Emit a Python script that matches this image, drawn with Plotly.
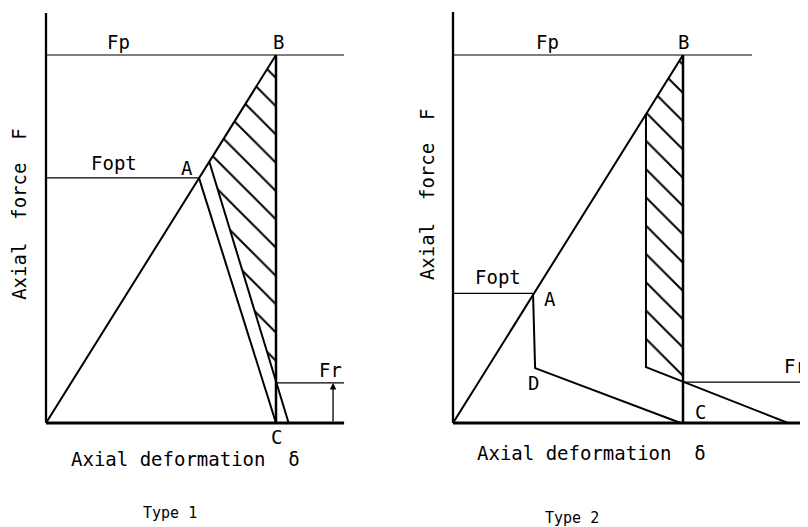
import plotly.graph_objects as go

# ---------------- data (normalised: delta_B = 1, Fp = 1) ----------------
# Type 1
t1_env_x = [0.0, 1.0]
t1_env_y = [0.0, 1.0]
t1_bc_x = [1.0, 1.0]
t1_bc_y = [1.0, 0.0]
t1_ac_x = [0.665, 1.0]
t1_ac_y = [0.666, 0.0]
t1_second_x = [0.71, 1.055]
t1_second_y = [0.71, 0.0]
t1_fopt = 0.666
t1_fp = 1.0
t1_fr = 0.109
t1_axis_x_end = 1.296
t1_axis_y_end = 1.114

# Type 2
t2_env_x = [0.0, 1.0]
t2_env_y = [0.0, 1.0]
t2_bc_x = [1.0, 1.0]
t2_bc_y = [1.0, 0.0]
t2_adc_x = [0.348, 0.357, 0.99]
t2_adc_y = [0.352, 0.149, 0.0]
t2_second_x = [0.839, 0.839, 1.457]
t2_second_y = [0.839, 0.152, 0.0]
t2_fopt = 0.352
t2_fp = 1.0
t2_fr = 0.111
t2_fp_end = 1.30
t2_axis_x_end = 1.56
t2_axis_y_end = 1.117

FONT = "DejaVu Sans Mono"
NB = "\u00a0"


def y_on_line(xs, ys, x):
    """y of the last segment of a polyline at abscissa x."""
    x0, x1 = xs[-2], xs[-1]
    y0, y1 = ys[-2], ys[-1]
    return y0 + (y1 - y0) * (x - x0) / (x1 - x0)


fig = go.Figure()


def line(x, y, w, ax):
    fig.add_trace(go.Scatter(x=x, y=y, mode="lines",
                             line=dict(color="black", width=w),
                             xaxis=ax[0], yaxis=ax[1], hoverinfo="skip",
                             showlegend=False))


def hatch(x, y, ax):
    fig.add_trace(go.Scatter(x=x, y=y, mode="lines", fill="toself",
                             fillcolor="rgba(0,0,0,0)",
                             fillpattern=dict(shape="\\", size=20, solidity=0.1,
                                              fgcolor="black", fgopacity=1,
                                              bgcolor="white"),
                             line=dict(color="black", width=0),
                             xaxis=ax[0], yaxis=ax[1], hoverinfo="skip",
                             showlegend=False))


# ---- Type 1 ----
A1 = ("x", "y")
yc1 = y_on_line(t1_second_x, t1_second_y, t1_bc_x[0])
hatch([t1_second_x[0], t1_env_x[1], t1_bc_x[0], t1_second_x[0]],
      [t1_second_y[0], t1_env_y[1], yc1, t1_second_y[0]], A1)
line([0, 0], [0, t1_axis_y_end], 2.3, A1)
line([0, t1_axis_x_end], [0, 0], 3, A1)
line([0, t1_axis_x_end], [t1_fp, t1_fp], 1.2, A1)
line([0, t1_ac_x[0]], [t1_fopt, t1_fopt], 1.2, A1)
line([t1_bc_x[0], t1_axis_x_end], [t1_fr, t1_fr], 1.2, A1)
line(t1_env_x, t1_env_y, 2, A1)
line(t1_bc_x, t1_bc_y, 2.5, A1)
line(t1_ac_x, t1_ac_y, 2, A1)
line(t1_second_x, t1_second_y, 2, A1)

# ---- Type 2 ----
A2 = ("x2", "y2")
yc2 = y_on_line(t2_second_x, t2_second_y, t2_bc_x[0])
hatch([t2_second_x[0], t2_env_x[1], t2_bc_x[0], t2_second_x[1], t2_second_x[0]],
      [t2_second_y[0], t2_env_y[1], yc2, t2_second_y[1], t2_second_y[0]], A2)
line([0, 0], [0, t2_axis_y_end], 2.3, A2)
line([0, t2_axis_x_end], [0, 0], 3, A2)
line([0, t2_fp_end], [t2_fp, t2_fp], 1.2, A2)
line([0, t2_adc_x[0]], [t2_fopt, t2_fopt], 1.2, A2)
line([t2_bc_x[0], t2_axis_x_end], [t2_fr, t2_fr], 1.2, A2)
line(t2_env_x, t2_env_y, 2, A2)
line(t2_bc_x, t2_bc_y, 2.5, A2)
line(t2_adc_x, t2_adc_y, 2, A2)
line(t2_second_x, t2_second_y, 2, A2)

# ---------------- text ----------------
def label(text, x, y, ax, size=19, angle=0):
    fig.add_annotation(text=text, x=x, y=y, xref=ax[0], yref=ax[1],
                       showarrow=False, textangle=angle, borderpad=0,
                       xanchor="center", yanchor="middle",
                       font=dict(family=FONT, size=size, color="black"))


label("Fp", 0.315, 1.035, A1)
label("B", 1.01, 1.035, A1)
label("Fopt", 0.296, 0.707, A1)
label("A", 0.613, 0.693, A1)
label("C", 1.004, -0.038, A1)
label("Fr", 1.235, 0.144, A1)
label("Axial deformation" + NB * 2 + "δ", 0.608, -0.097, A1)
label("Axial" + NB * 2 + "force" + NB * 2 + "F", -0.118, 0.568, A1, angle=-90)
label("Type 1", 0.539, -0.245, A1, size=15)

label("Fp", 0.413, 1.035, A2)
label("B", 1.0, 1.035, A2)
label("Fopt", 0.196, 0.397, A2)
label("A", 0.422, 0.337, A2)
label("D", 0.348, 0.109, A2)
label("C", 1.074, 0.030, A2)
label("Fr", 1.487, 0.155, A2)
label("Axial deformation" + NB * 2 + "δ", 0.600, -0.082, A2)
label("Axial" + NB * 2 + "force" + NB * 2 + "F", -0.113, 0.622, A2, angle=-90)
label("Type 2", 0.517, -0.258, A2, size=15)

# Fr arrows
for ax, xa, fr in ((A1, 1.248, t1_fr), (A2, 1.535, t2_fr)):
    fig.add_annotation(x=xa, y=fr, ax=xa, ay=0, xref=ax[0], yref=ax[1],
                       axref=ax[0], ayref=ax[1], text="", showarrow=True,
                       arrowhead=2, arrowsize=1, arrowwidth=1.3,
                       arrowcolor="black", standoff=0, startstandoff=0)

# ---------------- layout (pixel geometry) ----------------
# page body has an 8 px margin: figure spans page pixels 8..808 x 8..527
OFF = 8
PW, PH = 808, 527
W, H = PW - OFF, PH - OFF
yr = [(423 - PH) / 368, (423 - OFF) / 368]
split = 400 - OFF
ax_common = dict(showgrid=False, zeroline=False, showticklabels=False,
                 ticks="", showline=False, fixedrange=True)
fig.update_layout(
    width=W, height=H, autosize=False,
    margin=dict(l=0, r=0, t=0, b=0),
    paper_bgcolor="white", plot_bgcolor="white",
    showlegend=False,
    xaxis=dict(domain=[0, split / W], range=[(OFF - 46) / 230, (400 - 46) / 230],
               anchor="y", **ax_common),
    yaxis=dict(domain=[0, 1], range=yr, anchor="x", **ax_common),
    xaxis2=dict(domain=[split / W, 1], range=[(400 - 453) / 230, (PW - 453) / 230],
                anchor="y2", **ax_common),
    yaxis2=dict(domain=[0, 1], range=yr, anchor="x2", **ax_common),
)

fig.write_html("out.html")
